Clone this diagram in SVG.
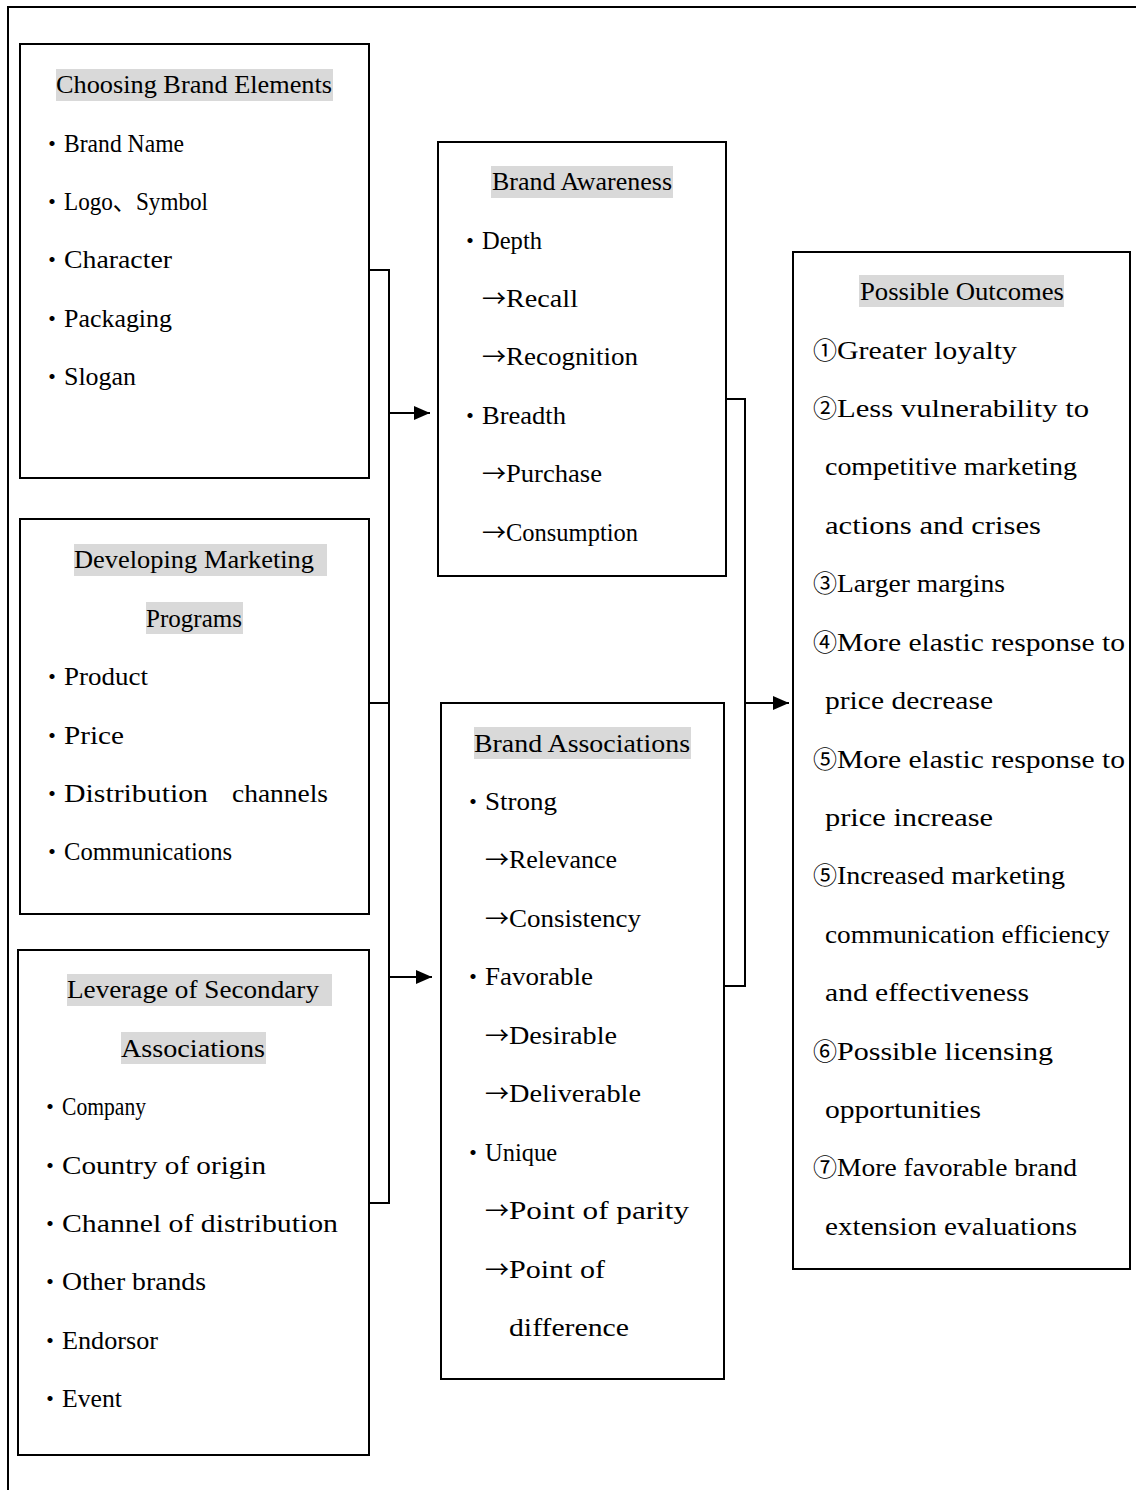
<svg xmlns="http://www.w3.org/2000/svg" width="1136" height="1490" viewBox="0 0 1136 1490">
  <style>
    .frame { fill: none; stroke: #000; stroke-width: 2; }
    .box { fill: #fff; stroke: #000; stroke-width: 2; }
    .hl { fill: #d9d9d9; }
    .t { font-family: "Liberation Serif", "Noto Sans CJK SC", serif; font-size: 25px; fill: #000; }
    .s { font-family: "Noto Sans CJK SC", "Liberation Serif", sans-serif; font-size: 24px; fill: #000; }
    .ln { fill: none; stroke: #000; stroke-width: 2; }
  </style>
  <defs>
    <marker id="head" markerUnits="userSpaceOnUse" markerWidth="16" markerHeight="14" refX="16" refY="7" orient="auto">
      <path d="M0,0 L16,7 L0,14 Z" fill="#000"/>
    </marker>
  </defs>

  <rect width="1136" height="1490" fill="#fff"/>
  <polyline class="frame" points="8,1490 8,7 1136,7"/>

  <!-- Choosing Brand Elements -->
  <g id="brand-elements">
    <rect class="box" x="20" y="44" width="349" height="434"/>
    <rect class="hl" x="56" y="69" width="277" height="32"/>
    <text class="t" x="56" y="93" textLength="276" lengthAdjust="spacingAndGlyphs">Choosing Brand Elements</text>
    <text class="s" x="40" y="152">・</text><text class="t" x="64" y="152" textLength="120" lengthAdjust="spacingAndGlyphs">Brand Name</text>
    <text class="s" x="40" y="210">・</text><text class="t" x="64" y="210" textLength="144" lengthAdjust="spacingAndGlyphs">Logo、Symbol</text>
    <text class="s" x="40" y="268">・</text><text class="t" x="64" y="268" textLength="108" lengthAdjust="spacingAndGlyphs">Character</text>
    <text class="s" x="40" y="327">・</text><text class="t" x="64" y="327" textLength="108" lengthAdjust="spacingAndGlyphs">Packaging</text>
    <text class="s" x="40" y="385">・</text><text class="t" x="64" y="385" textLength="72" lengthAdjust="spacingAndGlyphs">Slogan</text>
  </g>

  <!-- Developing Marketing Programs -->
  <g id="marketing-programs">
    <rect class="box" x="20" y="519" width="349" height="395"/>
    <rect class="hl" x="74" y="544" width="253" height="32"/>
    <text class="t" x="74" y="568" textLength="240" lengthAdjust="spacingAndGlyphs">Developing Marketing</text>
    <rect class="hl" x="146" y="602" width="97" height="32"/>
    <text class="t" x="146" y="627" textLength="96" lengthAdjust="spacingAndGlyphs">Programs</text>
    <text class="s" x="40" y="685">・</text><text class="t" x="64" y="685" textLength="84" lengthAdjust="spacingAndGlyphs">Product</text>
    <text class="s" x="40" y="744">・</text><text class="t" x="64" y="744" textLength="60" lengthAdjust="spacingAndGlyphs">Price</text>
    <text class="s" x="40" y="802">・</text><text class="t" x="64" y="802" textLength="144" lengthAdjust="spacingAndGlyphs">Distribution</text><text class="t" x="232" y="802" textLength="96" lengthAdjust="spacingAndGlyphs">channels</text>
    <text class="s" x="40" y="860">・</text><text class="t" x="64" y="860" textLength="168" lengthAdjust="spacingAndGlyphs">Communications</text>
  </g>

  <!-- Leverage of Secondary Associations -->
  <g id="secondary-associations">
    <rect class="box" x="18" y="950" width="351" height="505"/>
    <rect class="hl" x="67" y="974" width="265" height="32"/>
    <text class="t" x="67" y="998" textLength="252" lengthAdjust="spacingAndGlyphs">Leverage of Secondary</text>
    <rect class="hl" x="121" y="1032" width="145" height="32"/>
    <text class="t" x="121" y="1057" textLength="144" lengthAdjust="spacingAndGlyphs">Associations</text>
    <text class="s" x="38" y="1115">・</text><text class="t" x="62" y="1115" textLength="84" lengthAdjust="spacingAndGlyphs">Company</text>
    <text class="s" x="38" y="1174">・</text><text class="t" x="62" y="1174" textLength="204" lengthAdjust="spacingAndGlyphs">Country of origin</text>
    <text class="s" x="38" y="1232">・</text><text class="t" x="62" y="1232" textLength="276" lengthAdjust="spacingAndGlyphs">Channel of distribution</text>
    <text class="s" x="38" y="1290">・</text><text class="t" x="62" y="1290" textLength="144" lengthAdjust="spacingAndGlyphs">Other brands</text>
    <text class="s" x="38" y="1349">・</text><text class="t" x="62" y="1349" textLength="96" lengthAdjust="spacingAndGlyphs">Endorsor</text>
    <text class="s" x="38" y="1407">・</text><text class="t" x="62" y="1407" textLength="60" lengthAdjust="spacingAndGlyphs">Event</text>
  </g>

  <!-- Brand Awareness -->
  <g id="brand-awareness">
    <rect class="box" x="438" y="142" width="288" height="434"/>
    <rect class="hl" x="491" y="166" width="182" height="32"/>
    <text class="t" x="492" y="190" textLength="180" lengthAdjust="spacingAndGlyphs">Brand Awareness</text>
    <text class="s" x="458" y="249">・</text><text class="t" x="482" y="249" textLength="60" lengthAdjust="spacingAndGlyphs">Depth</text>
    <text class="s" x="482" y="307">→</text><text class="t" x="506" y="307" textLength="72" lengthAdjust="spacingAndGlyphs">Recall</text>
    <text class="s" x="482" y="365">→</text><text class="t" x="506" y="365" textLength="132" lengthAdjust="spacingAndGlyphs">Recognition</text>
    <text class="s" x="458" y="424">・</text><text class="t" x="482" y="424" textLength="84" lengthAdjust="spacingAndGlyphs">Breadth</text>
    <text class="s" x="482" y="482">→</text><text class="t" x="506" y="482" textLength="96" lengthAdjust="spacingAndGlyphs">Purchase</text>
    <text class="s" x="482" y="541">→</text><text class="t" x="506" y="541" textLength="132" lengthAdjust="spacingAndGlyphs">Consumption</text>
  </g>

  <!-- Brand Associations -->
  <g id="brand-associations">
    <rect class="box" x="441" y="703" width="283" height="676"/>
    <rect class="hl" x="474" y="727" width="217" height="32"/>
    <text class="t" x="474" y="752" textLength="216" lengthAdjust="spacingAndGlyphs">Brand Associations</text>
    <text class="s" x="461" y="810">・</text><text class="t" x="485" y="810" textLength="72" lengthAdjust="spacingAndGlyphs">Strong</text>
    <text class="s" x="485" y="868">→</text><text class="t" x="509" y="868" textLength="108" lengthAdjust="spacingAndGlyphs">Relevance</text>
    <text class="s" x="485" y="927">→</text><text class="t" x="509" y="927" textLength="132" lengthAdjust="spacingAndGlyphs">Consistency</text>
    <text class="s" x="461" y="985">・</text><text class="t" x="485" y="985" textLength="108" lengthAdjust="spacingAndGlyphs">Favorable</text>
    <text class="s" x="485" y="1044">→</text><text class="t" x="509" y="1044" textLength="108" lengthAdjust="spacingAndGlyphs">Desirable</text>
    <text class="s" x="485" y="1102">→</text><text class="t" x="509" y="1102" textLength="132" lengthAdjust="spacingAndGlyphs">Deliverable</text>
    <text class="s" x="461" y="1161">・</text><text class="t" x="485" y="1161" textLength="72" lengthAdjust="spacingAndGlyphs">Unique</text>
    <text class="s" x="485" y="1219">→</text><text class="t" x="509" y="1219" textLength="180" lengthAdjust="spacingAndGlyphs">Point of parity</text>
    <text class="s" x="485" y="1278">→</text><text class="t" x="509" y="1278" textLength="96" lengthAdjust="spacingAndGlyphs">Point of</text>
    <text class="t" x="509" y="1336" textLength="120" lengthAdjust="spacingAndGlyphs">difference</text>
  </g>

  <!-- Possible Outcomes -->
  <g id="possible-outcomes">
    <rect class="box" x="793" y="252" width="337" height="1017"/>
    <rect class="hl" x="859" y="275" width="205" height="32"/>
    <text class="t" x="860" y="300" textLength="204" lengthAdjust="spacingAndGlyphs">Possible Outcomes</text>
    <text class="s" x="813" y="359">①</text><text class="t" x="837" y="359" textLength="180" lengthAdjust="spacingAndGlyphs">Greater loyalty</text>
    <text class="s" x="813" y="417">②</text><text class="t" x="837" y="417" textLength="252" lengthAdjust="spacingAndGlyphs">Less vulnerability to</text>
    <text class="t" x="825" y="475" textLength="252" lengthAdjust="spacingAndGlyphs">competitive marketing</text>
    <text class="t" x="825" y="534" textLength="216" lengthAdjust="spacingAndGlyphs">actions and crises</text>
    <text class="s" x="813" y="592">③</text><text class="t" x="837" y="592" textLength="168" lengthAdjust="spacingAndGlyphs">Larger margins</text>
    <text class="s" x="813" y="651">④</text><text class="t" x="837" y="651" textLength="288" lengthAdjust="spacingAndGlyphs">More elastic response to</text>
    <text class="t" x="825" y="709" textLength="168" lengthAdjust="spacingAndGlyphs">price decrease</text>
    <text class="s" x="813" y="768">⑤</text><text class="t" x="837" y="768" textLength="288" lengthAdjust="spacingAndGlyphs">More elastic response to</text>
    <text class="t" x="825" y="826" textLength="168" lengthAdjust="spacingAndGlyphs">price increase</text>
    <text class="s" x="813" y="884">⑤</text><text class="t" x="837" y="884" textLength="228" lengthAdjust="spacingAndGlyphs">Increased marketing</text>
    <text class="t" x="825" y="943" textLength="285" lengthAdjust="spacingAndGlyphs">communication efficiency</text>
    <text class="t" x="825" y="1001" textLength="204" lengthAdjust="spacingAndGlyphs">and effectiveness</text>
    <text class="s" x="813" y="1060">⑥</text><text class="t" x="837" y="1060" textLength="216" lengthAdjust="spacingAndGlyphs">Possible licensing</text>
    <text class="t" x="825" y="1118" textLength="156" lengthAdjust="spacingAndGlyphs">opportunities</text>
    <text class="s" x="813" y="1176">⑦</text><text class="t" x="837" y="1176" textLength="240" lengthAdjust="spacingAndGlyphs">More favorable brand</text>
    <text class="t" x="825" y="1235" textLength="252" lengthAdjust="spacingAndGlyphs">extension evaluations</text>
  </g>

  <!-- Connectors -->
  <g id="connectors">
    <polyline class="ln" points="369,270 389,270 389,1203 369,1203"/>
    <line class="ln" x1="369" y1="703" x2="389" y2="703"/>
    <line class="ln" x1="389" y1="413" x2="430" y2="413" marker-end="url(#head)"/>
    <line class="ln" x1="389" y1="977" x2="432" y2="977" marker-end="url(#head)"/>
    <polyline class="ln" points="726,399 745,399 745,986 724,986"/>
    <line class="ln" x1="745" y1="703" x2="789" y2="703" marker-end="url(#head)"/>
  </g>
</svg>
